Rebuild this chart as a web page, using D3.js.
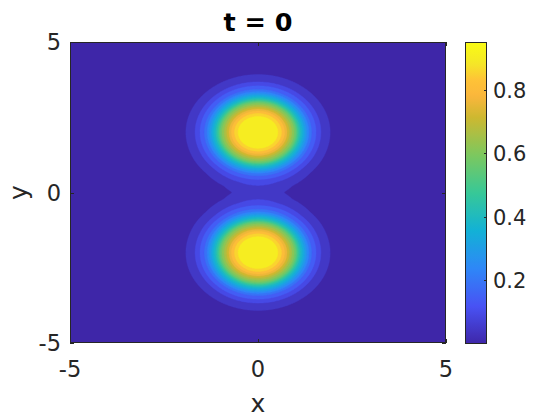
<!DOCTYPE html>
<html>
<head>
<meta charset="utf-8">
<script src="https://cdn.jsdelivr.net/npm/d3@7"></script>
<style>
  html, body { margin: 0; padding: 0; background: #fff; }
  svg { display: block; font-family: "DejaVu Sans", sans-serif; }
</style>
</head>
<body>
<svg id="chart" width="560" height="420"></svg>
<script>
// ---- data ----
const titleText = "t = 0";
const xLabelText = "x";
const yLabelText = "y";
const xTicks = [-5, 0, 5];
const yTicks = [-5, 0, 5];
const cbTicks = [0.2, 0.4, 0.6, 0.8];
const xDomain = [-5, 5];
const yDomain = [-5, 5];
const valueRange = [0, 0.951];
// two blobs (centres)
const blobX = [0, 0];
const blobY = [2, -2];
// radial profile of one blob (distance from centre -> value)
const profileR = [0, 0.3, 0.55, 0.72, 0.98, 1.1, 1.25, 1.4, 1.65, 1.9, 2.11, 2.4, 3.0, 4.0, 8.0];
const profileV = [0.951, 0.94, 0.9, 0.8, 0.6, 0.45, 0.32, 0.2, 0.1, 0.05, 0.024, 0.01, 0.002, 0.0, 0.0];
const nLevels = 20;
// parula colormap stops
const parulaT = [0, 0.125, 0.25, 0.375, 0.5, 0.625, 0.75, 0.82, 0.875, 0.93, 1];
const parulaC = ["#3e26a8", "#4852f4", "#2e87f7", "#12b1d6", "#37c897", "#7cc85f", "#cdb830",
                 "#fab63c", "#fec337", "#f5e826", "#f9fb14"];

// ---- layout ----
const svg = d3.select("#chart");
const plot = { left: 70, right: 446, top: 42, bottom: 343 };
const cb = { left: 465, right: 487, top: 42, bottom: 344 };
const textColor = "#262626";

const x = d3.scaleLinear().domain(xDomain).range([plot.left, plot.right]);
const y = d3.scaleLinear().domain(yDomain).range([plot.bottom, plot.top]);
const parula = d3.scaleLinear().domain(parulaT).range(parulaC).interpolate(d3.interpolateRgb).clamp(true);
const colorOf = v => parula((v - valueRange[0]) / (valueRange[1] - valueRange[0]));

// ---- field on a grid ----
const profile = d3.scaleLinear().domain(profileR).range(profileV).clamp(true);
const N = 301;
const dx = (xDomain[1] - xDomain[0]) / (N - 1);
const dy = (yDomain[1] - yDomain[0]) / (N - 1);
const values = new Float64Array(N * N);
for (let j = 0; j < N; j++) {
  const yy = yDomain[0] + j * dy;
  for (let i = 0; i < N; i++) {
    const xx = xDomain[0] + i * dx;
    let v = 0;
    for (let b = 0; b < blobX.length; b++) {
      v += profile(Math.hypot(xx - blobX[b], yy - blobY[b]));
    }
    values[j * N + i] = v;
  }
}
const levels = d3.range(1, nLevels).map(k => valueRange[0] + k * (valueRange[1] - valueRange[0]) / nLevels);
const contours = d3.contours().size([N, N]).thresholds(levels)(values);

const proj = d3.geoTransform({
  point: function(gx, gy) {
    this.stream.point(x(xDomain[0] + (gx - 0.5) * dx), y(yDomain[0] + (gy - 0.5) * dy));
  }
});
const path = d3.geoPath(proj);

svg.append("clipPath").attr("id", "clip").append("rect")
  .attr("x", plot.left).attr("y", plot.top)
  .attr("width", plot.right - plot.left).attr("height", plot.bottom - plot.top);

const g = svg.append("g").attr("clip-path", "url(#clip)");
g.append("rect")
  .attr("x", plot.left).attr("y", plot.top)
  .attr("width", plot.right - plot.left).attr("height", plot.bottom - plot.top)
  .attr("fill", colorOf(valueRange[0]));
g.selectAll("path.c").data(contours).join("path")
  .attr("class", "c")
  .attr("d", path)
  .attr("fill", d => colorOf(d.value))
  .attr("stroke", d => colorOf(d.value))
  .attr("stroke-width", 0.4);

// ---- axes ----
const tickLen = 4;
const ax = svg.append("g");
ax.append("rect")
  .attr("x", plot.left + 0.5).attr("y", plot.top + 0.5)
  .attr("width", plot.right - plot.left - 1).attr("height", plot.bottom - plot.top - 1)
  .attr("fill", "none").attr("stroke", textColor).attr("stroke-width", 1);
xTicks.forEach(t => {
  const px = Math.round(x(t)) + 0.5;
  ax.append("line").attr("x1", px).attr("x2", px).attr("y1", plot.bottom).attr("y2", plot.bottom - tickLen)
    .attr("stroke", textColor);
  ax.append("line").attr("x1", px).attr("x2", px).attr("y1", plot.top).attr("y2", plot.top + tickLen)
    .attr("stroke", textColor);
  ax.append("text").attr("x", x(t)).attr("y", 377)
    .attr("text-anchor", "middle").attr("font-size", 22.5).attr("fill", textColor)
    .text(t);
});
yTicks.forEach(t => {
  const py = Math.round(y(t)) + 0.5;
  ax.append("line").attr("x1", plot.left).attr("x2", plot.left + tickLen).attr("y1", py).attr("y2", py)
    .attr("stroke", textColor);
  ax.append("line").attr("x1", plot.right).attr("x2", plot.right - tickLen).attr("y1", py).attr("y2", py)
    .attr("stroke", textColor);
  ax.append("text").attr("x", 61).attr("y", y(t) + 8.2)
    .attr("text-anchor", "end").attr("font-size", 22.5).attr("fill", textColor)
    .text(t);
});
svg.append("text").attr("x", (plot.left + plot.right) / 2).attr("y", 412)
  .attr("text-anchor", "middle").attr("font-size", 25).attr("fill", textColor).text(xLabelText);
svg.append("text").attr("transform", `translate(27,${(plot.top + plot.bottom) / 2}) rotate(-90)`)
  .attr("text-anchor", "middle").attr("font-size", 25).attr("fill", textColor).text(yLabelText);
svg.append("text").attr("x", (plot.left + plot.right) / 2).attr("y", 31)
  .attr("text-anchor", "middle").attr("font-size", 25.5).attr("font-weight", "bold").attr("fill", "#000")
  .text(titleText);

// ---- colorbar ----
const cbScale = d3.scaleLinear().domain(valueRange).range([cb.bottom, cb.top]);
const grad = svg.append("defs").append("linearGradient").attr("id", "cbgrad")
  .attr("x1", 0).attr("y1", 1).attr("x2", 0).attr("y2", 0);
d3.range(0, 65).forEach(k => {
  grad.append("stop").attr("offset", k / 64).attr("stop-color", parula(k / 64));
});
svg.append("rect").attr("x", cb.left).attr("y", cb.top)
  .attr("width", cb.right - cb.left).attr("height", cb.bottom - cb.top)
  .attr("fill", "url(#cbgrad)");
svg.append("rect").attr("x", cb.left + 0.5).attr("y", cb.top + 0.5)
  .attr("width", cb.right - cb.left - 1).attr("height", cb.bottom - cb.top - 1)
  .attr("fill", "none").attr("stroke", textColor);
cbTicks.forEach(t => {
  const py = Math.round(cbScale(t)) + 0.5;
  svg.append("line").attr("x1", cb.right).attr("x2", cb.right - 3).attr("y1", py).attr("y2", py)
    .attr("stroke", textColor);
  svg.append("text").attr("x", 493).attr("y", cbScale(t) + 7.7)
    .attr("font-size", 21).attr("fill", textColor).text(t);
});
</script>
</body>
</html>
